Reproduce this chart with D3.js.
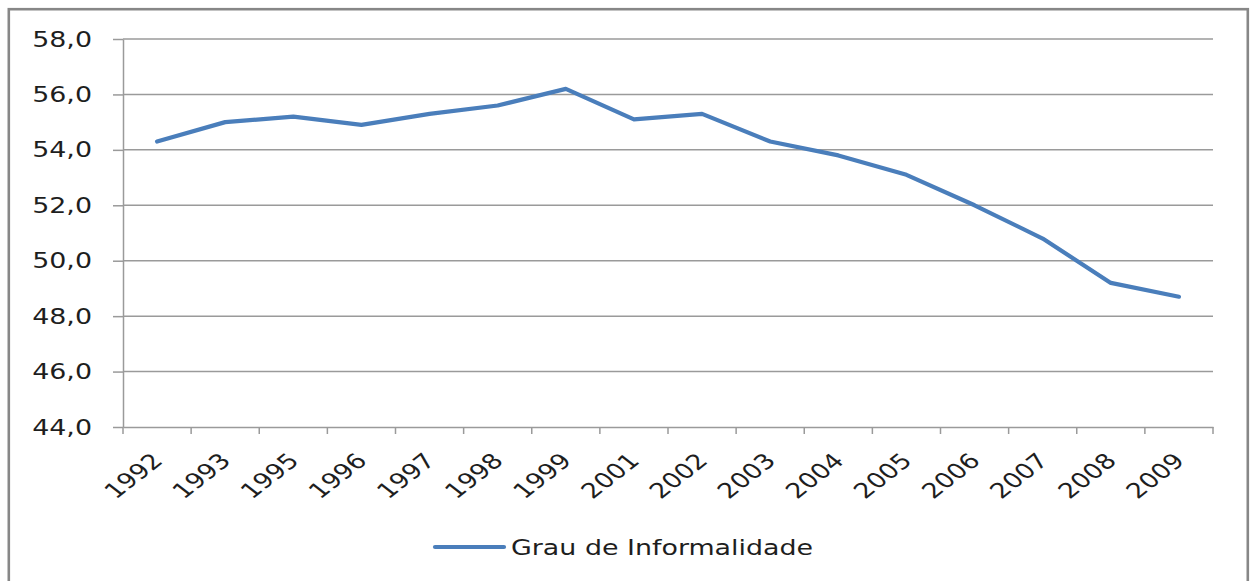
<!DOCTYPE html>
<html>
<head>
<meta charset="utf-8">
<script src="https://cdn.jsdelivr.net/npm/d3@7"></script>
<style>
  html, body { margin: 0; padding: 0; background: #fff; }
  svg { display: block; }
</style>
</head>
<body>
<svg id="chart" width="1253" height="581"></svg>
<script>
const categories = ["1992","1993","1995","1996","1997","1998","1999","2001","2002","2003","2004","2005","2006","2007","2008","2009"];
const values = [54.3, 55.0, 55.2, 54.9, 55.3, 55.6, 56.2, 55.1, 55.3, 54.3, 53.8, 53.1, 52.0, 50.8, 49.2, 48.7];
const yTicks = [44, 46, 48, 50, 52, 54, 56, 58];
const seriesName = "Grau de Informalidade";

const plotLeft = 123, plotRight = 1213, plotTop = 39, plotBottom = 427;
const stretch = 1.28;
const fontFamily = "'DejaVu Sans', Verdana, sans-serif";
const textColor = "#1e1e1e";
const gridColor = "#9a9a9a";
const lineColor = "#4a7ebb";

const svg = d3.select("#chart");

// Outer frame
svg.append("rect")
  .attr("x", 8.8).attr("y", 9.2)
  .attr("width", 1239).attr("height", 620)
  .attr("fill", "none").attr("stroke", "#878787").attr("stroke-width", 2.6);

const x = d3.scaleBand().domain(categories).range([plotLeft, plotRight]).padding(0);
const y = d3.scaleLinear().domain([44, 58]).range([plotBottom, plotTop]);

// Gridlines
svg.append("g")
  .selectAll("line")
  .data(yTicks.filter(d => d !== 44))
  .join("line")
  .attr("x1", plotLeft).attr("x2", plotRight)
  .attr("y1", d => y(d)).attr("y2", d => y(d))
  .attr("stroke", gridColor).attr("stroke-width", 1.5);

// Y axis
const yAxis = svg.append("g")
  .attr("transform", `translate(${plotLeft},0)`)
  .call(d3.axisLeft(y).tickValues(yTicks).tickSize(10).tickSizeOuter(0).tickFormat(() => ""));
yAxis.select(".domain").attr("stroke", gridColor).attr("stroke-width", 1.5);
yAxis.selectAll(".tick line").attr("stroke", gridColor).attr("stroke-width", 1.5);

// Y labels (stretched horizontally)
svg.append("g")
  .selectAll("text")
  .data(yTicks)
  .join("text")
  .attr("transform", d => `translate(92,${y(d)}) scale(${stretch},1)`)
  .attr("dy", "0.36em")
  .attr("text-anchor", "end")
  .attr("font-family", fontFamily)
  .attr("font-size", 21)
  .attr("fill", textColor)
  .text(d => d.toFixed(1).replace(".", ","));

// X axis line
const xAxis = svg.append("g")
  .attr("transform", `translate(0,${plotBottom})`)
  .call(d3.axisBottom(x).tickSize(0).tickSizeOuter(0).tickFormat(() => ""));
xAxis.select(".domain").attr("stroke", gridColor).attr("stroke-width", 1.5);

// X ticks at category boundaries
const boundaries = categories.map(c => x(c)).concat([x.range()[1]]);
svg.append("g")
  .selectAll("line")
  .data(boundaries)
  .join("line")
  .attr("x1", d => d).attr("x2", d => d)
  .attr("y1", plotBottom).attr("y2", plotBottom + 7)
  .attr("stroke", gridColor).attr("stroke-width", 1.5);

// X labels, rotated
svg.append("g")
  .selectAll("text")
  .data(categories)
  .join("text")
  .attr("transform", d => `translate(${x(d) + x.bandwidth() / 2 + 7},${plotBottom + 35}) scale(${stretch},1) rotate(-45)`)
  .attr("text-anchor", "end")
  .attr("font-family", fontFamily)
  .attr("font-size", 21)
  .attr("fill", textColor)
  .text(d => d);

// Series line
const line = d3.line()
  .x((d, i) => x(categories[i]) + x.bandwidth() / 2)
  .y(d => y(d));
svg.append("path")
  .datum(values)
  .attr("d", line)
  .attr("fill", "none")
  .attr("stroke", lineColor)
  .attr("stroke-width", 4.2)
  .attr("stroke-linejoin", "round")
  .attr("stroke-linecap", "round");

// Legend
const legend = svg.append("g");
legend.append("line")
  .attr("x1", 435).attr("x2", 504)
  .attr("y1", 547).attr("y2", 547)
  .attr("stroke", lineColor).attr("stroke-width", 4.2)
  .attr("stroke-linecap", "round");
legend.append("text")
  .attr("transform", `translate(511,547) scale(${stretch},1)`)
  .attr("dy", "0.36em")
  .attr("font-family", fontFamily)
  .attr("font-size", 21)
  .attr("fill", textColor)
  .text(seriesName);
</script>
</body>
</html>
